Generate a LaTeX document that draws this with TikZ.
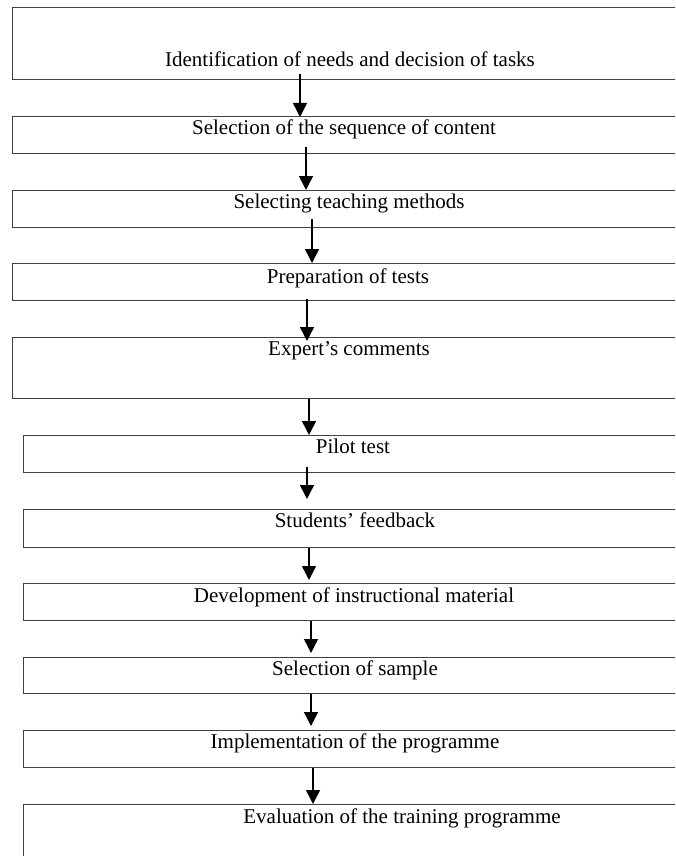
\documentclass[tikz,border=0pt]{standalone}
\usepackage{fontspec}
\setmainfont{Liberation Serif}
\usetikzlibrary{arrows.meta,calc}
\begin{document}
\begin{tikzpicture}[x=1pt,y=-1pt,
  box/.style={draw=black!75,line width=1.4pt,anchor=north west,inner sep=0pt,minimum width=700pt},
  txt/.style={anchor=base,inner sep=0pt,font=\fontsize{21}{24}\selectfont},
  arr/.style={line width=1.5pt,-{Triangle[width=14pt,length=14pt]}}]
\useasboundingbox (0,0) rectangle (675,856);
\fill[white] (0,0) rectangle (675,856);
\clip (0,0) rectangle (675,856);
% boxes
\node[box,minimum height=72pt] (b1) at (12,7) {};
\node[box,minimum height=37pt] (b2) at (12,116) {};
\node[box,minimum height=37pt] (b3) at (12,190) {};
\node[box,minimum height=37pt] (b4) at (12,263) {};
\node[box,minimum height=61pt] (b5) at (12,337) {};
\node[box,minimum height=37pt] (b6) at (23,435) {};
\node[box,minimum height=38pt] (b7) at (23,509) {};
\node[box,minimum height=37pt] (b8) at (23,583) {};
\node[box,minimum height=36pt] (b9) at (23,657) {};
\node[box,minimum height=37pt] (b10) at (23,730) {};
\node[box,minimum height=80pt] (b11) at (23,804) {};
% texts
\node[txt] (t1) at (350,67) {Identification of needs and decision of tasks};
\node[txt] (t2) at (344,135) {Selection of the sequence of content};
\node[txt] (t3) at (349,208) {Selecting teaching methods};
\node[txt] (t4) at (348,283) {Preparation of tests};
\node[txt] (t5) at (349,355) {Expert’s comments};
\node[txt] (t6) at (353,453) {Pilot test};
\node[txt] (t7) at (355,527) {Students’ feedback};
\node[txt] (t8) at (354,602) {Development of instructional material};
\node[txt] (t9) at (355,675) {Selection of sample};
\node[txt] (t10) at (355,748) {Implementation of the programme};
\node[txt] (t11) at (402,823) {Evaluation of the training programme};
% arrows
\draw[arr] ($(300,0 |- b1.south)+(0,-6)$) -- ($(300,0 |- b2.north)+(0,1)$);
\draw[arr] ($(306,0 |- b2.south)+(0,-7)$) -- ($(306,0 |- b3.north)$);
\draw[arr] ($(312,0 |- b3.south)+(0,-9)$) -- ($(312,0 |- b4.north)$);
\draw[arr] ($(307,0 |- b4.south)+(0,-2)$) -- ($(307,0 |- b5.north)+(0,4)$);
\draw[arr] ($(309,0 |- b5.south)$) -- ($(309,0 |- b6.north)$);
\draw[arr] ($(307,0 |- b6.south)+(0,-6)$) -- ($(307,0 |- b7.north)+(0,-10)$);
\draw[arr] ($(309,0 |- b7.south)$) -- ($(309,0 |- b8.north)+(0,-3)$);
\draw[arr] ($(311,0 |- b8.south)$) -- ($(311,0 |- b9.north)+(0,-4)$);
\draw[arr] ($(311,0 |- b9.south)$) -- ($(311,0 |- b10.north)+(0,-4)$);
\draw[arr] ($(313,0 |- b10.south)$) -- ($(313,0 |- b11.north)$);
\end{tikzpicture}
\end{document}
